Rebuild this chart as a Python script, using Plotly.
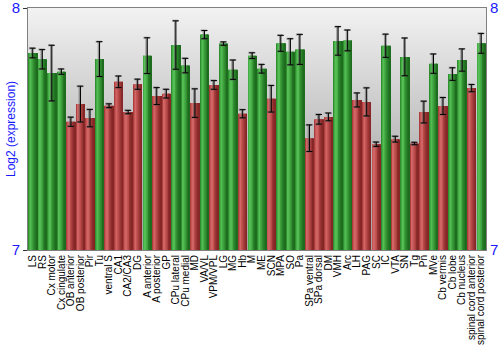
import base64
import plotly.graph_objects as go

# Brain regions and mean log2 expression with error (SE)
regions = [
    "LS", "RS", "Cx motor", "Cx cingulate", "OB anterior", "OB posterior", "Pir", "Tu",
    "ventral S", "CA1", "CA2/CA3", "DG", "A anterior", "A posterior", "GP", "CPu lateral",
    "CPu medial", "MD", "VA/VL", "VPM/VPL", "LG", "MG", "Hb", "M",
    "ME", "SCN", "MPA", "SO", "Pa", "SPa ventral", "SPa dorsal", "DM",
    "VMH", "Arc", "LH", "PAG", "SC", "IC", "VTA", "SN",
    "Tg", "Pn", "MVe", "Cb vermis", "Cb lobe", "Cb nucleus", "spinal cord anterior", "spinal cord posterior",
]
expression = [
    7.814, 7.788, 7.731, 7.737, 7.530, 7.603, 7.545, 7.789,
    7.596, 7.695, 7.570, 7.685, 7.803, 7.636, 7.646, 7.847,
    7.762, 7.607, 7.890, 7.682, 7.853, 7.745, 7.563, 7.803,
    7.749, 7.625, 7.854, 7.819, 7.829, 7.462, 7.540, 7.550,
    7.864, 7.866, 7.620, 7.612, 7.437, 7.844, 7.458, 7.798,
    7.440, 7.570, 7.770, 7.595, 7.727, 7.785, 7.669, 7.854,
]
error = [
    0.020, 0.040, 0.115, 0.011, 0.019, 0.074, 0.036, 0.072,
    0.008, 0.024, 0.007, 0.021, 0.074, 0.035, 0.018, 0.100,
    0.030, 0.059, 0.017, 0.018, 0.007, 0.040, 0.017, 0.012,
    0.018, 0.055, 0.033, 0.054, 0.062, 0.055, 0.020, 0.016,
    0.059, 0.043, 0.029, 0.058, 0.009, 0.048, 0.012, 0.078,
    0.005, 0.045, 0.040, 0.035, 0.026, 0.046, 0.015, 0.041,
]
# "g" = enriched (green), "r" = depleted (red)
group = [
    "g", "g", "g", "g", "r", "r", "r", "g",
    "r", "r", "r", "r", "g", "r", "r", "g",
    "g", "r", "g", "r", "g", "g", "r", "g",
    "g", "r", "g", "g", "g", "r", "r", "r",
    "g", "g", "r", "r", "r", "g", "r", "g",
    "r", "r", "g", "r", "g", "g", "r", "g",
]
y_ticks = [7, 8]

x = list(range(len(regions)))

# Horizontal shading profile across each bar (left -> right) to get a cylinder look
green_profile = ["#2f8f2f", "#45ad45", "#55bf55", "#52bb52", "#47ad47", "#3c9f3c",
                 "#329032", "#2a832a", "#237623", "#1e6c1e"]
red_profile = ["#ad3d3d", "#c65656", "#d26666", "#cf6262", "#c45555", "#b84a4a",
               "#aa3f3f", "#9c3535", "#8f2d2d", "#852727"]

bar_left = -0.44
bar_width = 0.88
n_slices = len(green_profile)
slice_w = bar_width / n_slices

fig = go.Figure()
for k in range(n_slices):
    colors = [green_profile[k] if g == "g" else red_profile[k] for g in group]
    fig.add_trace(go.Bar(
        x=x, y=[v - 7 for v in expression], base=7,
        offset=bar_left + k * slice_w, width=slice_w + 0.004,
        marker=dict(color=colors, line=dict(width=0)),
        hoverinfo="skip", showlegend=False,
    ))

# Soft shadow behind each error bar, then the black error bar itself
fig.add_trace(go.Scatter(
    x=[i - 0.09 for i in x], y=expression, mode="markers",
    marker=dict(size=1, opacity=0),
    error_y=dict(type="data", array=error, color="rgba(90,90,90,0.55)", thickness=2, width=3),
    hoverinfo="skip", showlegend=False,
))
fig.add_trace(go.Scatter(
    x=x, y=expression, mode="markers",
    marker=dict(size=1, opacity=0),
    error_y=dict(type="data", array=error, color="#000000", thickness=1, width=3),
    showlegend=False,
))
# Anchor trace for the right-hand axis
fig.add_trace(go.Scatter(x=[0], y=[7], yaxis="y2", mode="markers",
                         marker=dict(opacity=0), hoverinfo="skip", showlegend=False))

# Vertical grey gradient for the plotting area
svg = (
    '<svg xmlns="http://www.w3.org/2000/svg" width="10" height="100" preserveAspectRatio="none">'
    '<defs><linearGradient id="g" x1="0" y1="0" x2="0" y2="1">'
    '<stop offset="0" stop-color="#f2f2f2"/>'
    '<stop offset="0.55" stop-color="#bdbdbd"/>'
    '<stop offset="1" stop-color="#a4a4a4"/>'
    '</linearGradient></defs>'
    '<rect width="10" height="100" fill="url(#g)"/></svg>'
)
bg_src = "data:image/svg+xml;base64," + base64.b64encode(svg.encode()).decode()

blue = "#1a1aff"
plot_left, plot_w = 28, 458

fig.update_layout(
    width=500, height=350,
    margin=dict(l=plot_left, r=500 - plot_left - plot_w, t=8, b=100),
    paper_bgcolor="white",
    plot_bgcolor="rgba(0,0,0,0)",
    barmode="overlay",
    font=dict(family="Liberation Sans, Arial, sans-serif", color="black"),
    images=[dict(source=bg_src, xref="paper", yref="paper", x=0, y=1,
                 sizex=1, sizey=1, sizing="stretch", layer="below")],
    xaxis=dict(
        range=[-0.5, len(regions) - 0.5], automargin=False,
        tickmode="array", tickvals=x, ticktext=regions, tickangle=-90,
        tickfont=dict(size=10, color="black"),
        ticks="", showgrid=False, zeroline=False,
        showline=True, linecolor="#808080", linewidth=1, mirror=True,
    ),
    yaxis=dict(
        range=[7, 8], tickvals=y_ticks, ticktext=[str(t) for t in y_ticks], automargin=False,
        tickfont=dict(size=15, color=blue), ticklabeloverflow="allow",
        ticks="outside", ticklen=4, tickcolor="#333333",
        showgrid=False, zeroline=False,
        showline=True, linecolor="#808080", linewidth=1,
    ),
    yaxis2=dict(
        range=[7, 8], tickvals=y_ticks, ticktext=[str(t) for t in y_ticks],
        overlaying="y", side="right", anchor="x", automargin=False,
        tickfont=dict(size=15, color=blue), ticklabeloverflow="allow",
        ticks="", showgrid=False, zeroline=False,
        showline=True, linecolor="#808080", linewidth=1,
    ),
    annotations=[dict(
        text="Log2 (expression)", textangle=-90,
        xref="paper", yref="paper", x=(11 - plot_left) / plot_w, y=0.5,
        xanchor="center", yanchor="middle", showarrow=False,
        font=dict(size=12, color=blue),
    )],
)

fig.write_html("out.html")
